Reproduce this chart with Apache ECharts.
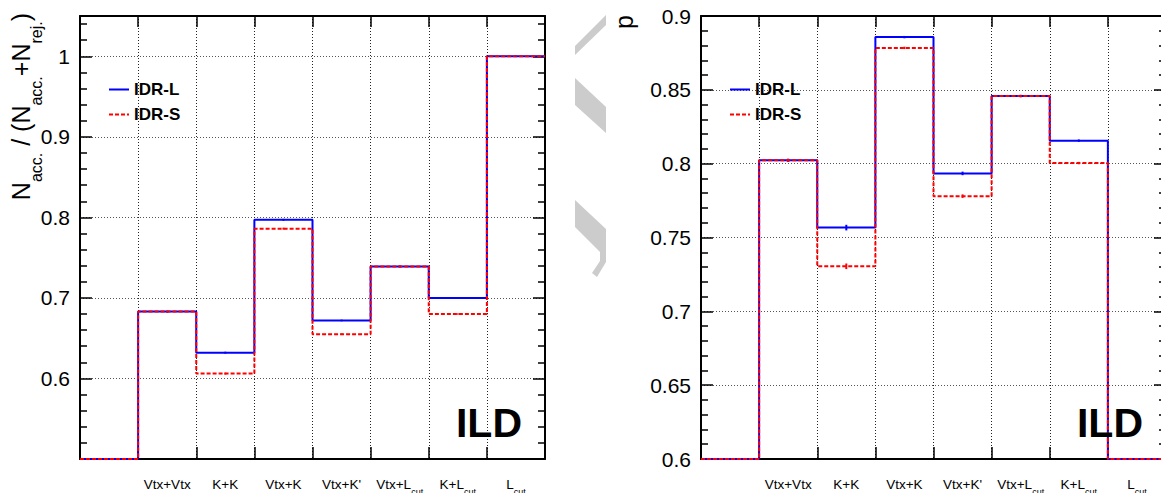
<!DOCTYPE html>
<html>
<head>
<meta charset="utf-8">
<script src="https://cdn.jsdelivr.net/npm/echarts@6/dist/echarts.min.js"></script>
<style>
html,body{margin:0;padding:0;background:#fff;}
#c{width:1161px;height:493px;}
</style>
</head>
<body>
<div id="c"></div>
<script>
// ---- data ----
const categories = ['', 'Vtx+Vtx', 'K+K', 'Vtx+K', "Vtx+K'", 'Vtx+L_cut', 'K+L_cut', 'L_cut'];
// left panel: N_acc. / (N_acc. + N_rej.)
const accL = [0, 0.683, 0.632, 0.797, 0.672, 0.739, 0.700, 1.000];
const accS = [0, 0.683, 0.606, 0.786, 0.655, 0.739, 0.680, 1.000];
const accErrL = [0, 0.001, 0.0012, 0.0012, 0.001, 0.001, 0.0008, 0.0005];
const accErrS = [0, 0.001, 0.0012, 0.0012, 0.001, 0.001, 0.0008, 0.0005];
// right panel: p
const pL = [0, 0.8023, 0.7567, 0.8857, 0.7934, 0.8458, 0.8156, 0];
const pS = [0, 0.8023, 0.7305, 0.8784, 0.7780, 0.8458, 0.8004, 0];
const pErrL = [0, 0.001, 0.0019, 0.0008, 0.0012, 0.0008, 0.0008, 0];
const pErrS = [0, 0.001, 0.0019, 0.0008, 0.0012, 0.0008, 0.0008, 0];
const leftAxis = {min: 0.5, max: 1.05, major: 0.1};
const rightAxis = {min: 0.6, max: 0.9, major: 0.05};
const seriesNames = ['IDR-L', 'IDR-S'];

const FONT = "'Liberation Sans', Arial, Helvetica, sans-serif";
const BLUE = '#0000ff', RED = '#ff0000';

function stepPoints(vals, ymin) {
  const pts = [];
  vals.forEach((v, i) => { const y = Math.max(v, ymin); pts.push([i, y]); pts.push([i + 1, y]); });
  return pts;
}
function catFormatter(v) {
  if (!v) return '';
  const parts = v.split('_');
  if (parts.length === 1) return '{n|' + v + '}';
  return '{n|' + parts[0] + '}{s|' + parts[1] + '}';
}
const grids = [
  {left: 80, top: 16, width: 465, height: 443, outerBoundsMode: 'none', containLabel: false},
  {left: 701, top: 16, width: 465, height: 443, outerBoundsMode: 'none', containLabel: false}
];
const xAxes = [], yAxes = [], series = [];
const axisLineStyle = {color: '#000', width: 2};
const tickStyle = {color: '#000', width: 1.5};

[leftAxis, rightAxis].forEach((ax, g) => {
  xAxes.push({
    gridIndex: g, type: 'value', min: 0, max: categories.length, interval: 1, position: 'bottom',
    axisLine: {show: true, onZero: false, lineStyle: axisLineStyle},
    axisTick: {show: true, inside: true, length: 12, lineStyle: tickStyle},
    axisLabel: {show: false},
    splitLine: {show: true, lineStyle: {color: '#222', width: 1, type: [1, 2]}}
  });
  xAxes.push({
    gridIndex: g, type: 'value', min: 0, max: categories.length, interval: 1, position: 'top',
    axisLine: {show: true, onZero: false, lineStyle: axisLineStyle},
    axisTick: {show: true, inside: true, length: 11, lineStyle: tickStyle},
    axisLabel: {show: false}, splitLine: {show: false}
  });
  xAxes.push({
    gridIndex: g, type: 'category', data: categories, boundaryGap: true, position: 'bottom',
    axisLine: {show: false, onZero: false}, axisTick: {show: false}, splitLine: {show: false},
    axisLabel: {
      show: true, interval: 0, margin: 18, formatter: catFormatter,
      rich: {
        n: {fontFamily: FONT, fontSize: 13.5, color: '#000', lineHeight: 16, verticalAlign: 'top'},
        s: {fontFamily: FONT, fontSize: 9, color: '#000', lineHeight: 10, verticalAlign: 'top', padding: [10, 0, 0, 0]}
      }
    }
  });
  const isLeft = g === 0;
  yAxes.push({
    gridIndex: g, type: 'value', min: ax.min, max: ax.max, interval: ax.major, position: 'left',
    axisLine: {show: true, onZero: false, lineStyle: axisLineStyle},
    axisTick: {show: true, inside: true, length: 12, lineStyle: tickStyle},
    minorTick: {show: true, splitNumber: 5, length: 7, lineStyle: tickStyle},
    axisLabel: {
      show: true, margin: 10, fontFamily: FONT, fontSize: 21, color: '#000',
      formatter: v => (isLeft && (v < 0.55 || v > 1.01)) ? '' : String(+v.toFixed(3))
    },
    splitLine: {show: true, lineStyle: {color: '#555', width: 1, type: [1, 2]}}
  });
  yAxes.push({
    gridIndex: g, type: 'value', min: ax.min, max: ax.max, interval: ax.major, position: 'right',
    axisLine: {show: true, onZero: false, lineStyle: axisLineStyle},
    axisTick: {show: true, inside: true, length: 12, lineStyle: tickStyle},
    minorTick: {show: true, splitNumber: 5, length: 7, lineStyle: tickStyle},
    axisLabel: {show: false}, splitLine: {show: false}
  });
});

function errSeries(vals, errs, color, xi, yi) {
  return {
    type: 'custom', xAxisIndex: xi, yAxisIndex: yi, z: 5, silent: true,
    data: vals.map((v, i) => [i + 0.5, v, errs[i]]).filter(d => d[2] > 0),
    renderItem: (params, api) => {
      const x = api.value(0), v = api.value(1), e = api.value(2);
      const p1 = api.coord([x, v - e]);
      const p2 = api.coord([x, v + e]);
      return {type: 'line', shape: {x1: p1[0], y1: p1[1], x2: p2[0], y2: p2[1]}, style: {stroke: color, lineWidth: 2}};
    }
  };
}
const panels = [
  {L: accL, S: accS, eL: accErrL, eS: accErrS, ax: leftAxis},
  {L: pL, S: pS, eL: pErrL, eS: pErrS, ax: rightAxis}
];
panels.forEach((p, g) => {
  const xi = g * 3, yi = g * 2;
  series.push({
    name: seriesNames[0], type: 'line', xAxisIndex: xi, yAxisIndex: yi,
    data: stepPoints(p.L, p.ax.min), showSymbol: false, symbol: 'none', clip: false,
    lineStyle: {color: BLUE, width: 2, type: 'solid'}, itemStyle: {color: BLUE}, z: 3
  });
  series.push(errSeries(p.L, p.eL, BLUE, xi, yi));
  series.push({
    name: seriesNames[1], type: 'line', xAxisIndex: xi, yAxisIndex: yi,
    data: stepPoints(p.S, p.ax.min), showSymbol: false, symbol: 'none', clip: false,
    lineStyle: {color: RED, width: 2, type: [4, 2]}, itemStyle: {color: RED}, z: 4
  });
  series.push(errSeries(p.S, p.eS, RED, xi, yi));
});

const legendBase = {
  orient: 'vertical', itemWidth: 20, itemHeight: 18, itemGap: 8, padding: 0,
  selectedMode: false, data: seriesNames,
  itemStyle: {opacity: 0},
  textStyle: {fontFamily: FONT, fontSize: 17, fontWeight: 'bold', color: '#000'}
};

const graphic = [
  {type: 'text', z: 10, x: 8, y: 13, rotation: Math.PI / 2, silent: true,
   style: {
     text: '{n|N}{s|acc.}{n| / (N}{s|acc.}{n|+N}{s|rej.}{n|)}',
     align: 'right', verticalAlign: 'top',
     rich: {
       n: {fontFamily: FONT, fontSize: 25, fill: '#000', lineHeight: 30, verticalAlign: 'top'},
       s: {fontFamily: FONT, fontSize: 16, fill: '#000', lineHeight: 16, verticalAlign: 'top', padding: [20, 0, 0, 0]}
     }
   }},
  {type: 'text', z: 10, x: 609, y: 15, rotation: Math.PI / 2, silent: true,
   style: {text: 'p', align: 'right', verticalAlign: 'top', fontFamily: FONT, fontSize: 25, fill: '#000', lineHeight: 30}},
  {type: 'text', z: 10, x: 522, y: 423, silent: true,
   style: {text: 'ILD', align: 'right', verticalAlign: 'middle', fontFamily: FONT, fontSize: 41, fontWeight: 'bold', fill: '#000'}},
  {type: 'text', z: 10, x: 1143, y: 423, silent: true,
   style: {text: 'ILD', align: 'right', verticalAlign: 'middle', fontFamily: FONT, fontSize: 41, fontWeight: 'bold', fill: '#000'}},
  {type: 'polygon', z: 10, silent: true, shape: {points: [[606, 15], [606, 25], [575, 55], [575, 46]]}, style: {fill: '#cccccc'}},
  {type: 'polygon', z: 10, silent: true, shape: {points: [[575, 78], [606, 107], [606, 133], [575, 105]]}, style: {fill: '#cccccc'}},
  {type: 'polygon', z: 10, silent: true, shape: {points: [[575, 200], [606, 229], [606, 262], [597, 277], [592, 273], [600, 261], [600, 252], [575, 227]]}, style: {fill: '#cccccc'}}
];

const chart = echarts.init(document.getElementById('c'), null, {renderer: 'svg'});
chart.setOption({
  animation: false,
  backgroundColor: '#fff',
  grid: grids,
  xAxis: xAxes,
  yAxis: yAxes,
  legend: [
    Object.assign({}, legendBase, {left: 108, top: 81}),
    Object.assign({}, legendBase, {left: 729, top: 81})
  ],
  series: series,
  graphic: graphic
});
</script>
</body>
</html>
